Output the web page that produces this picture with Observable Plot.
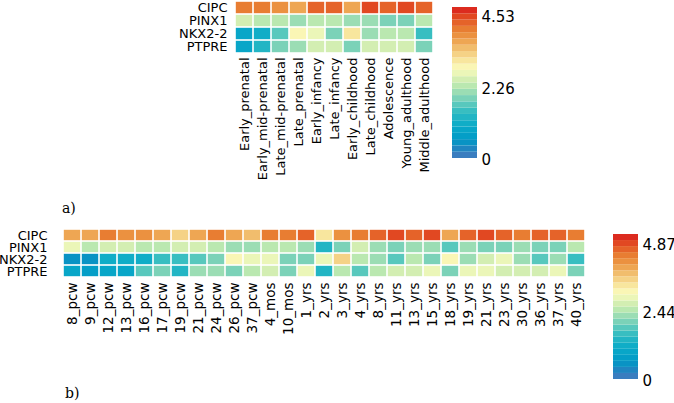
<!DOCTYPE html>
<html>
<head>
<meta charset="utf-8">
<script src="https://cdn.jsdelivr.net/npm/d3@7"></script>
<script src="https://cdn.jsdelivr.net/npm/@observablehq/plot@0.6"></script>
<style>
  html, body { margin: 0; padding: 0; background: white; }
  #root { position: relative; width: 674px; height: 403px; overflow: hidden; background: white; font-family: "DejaVu Sans", sans-serif; }
  .pane { position: absolute; }
  .tag { position: absolute; font-family: "DejaVu Serif", serif; font-size: 14px; color: #000; }
</style>
</head>
<body>
<div id="root"></div>
<script>
// ---------- data ----------
const genes = ["CIPC", "PINX1", "NKX2-2", "PTPRE"];

const stagesA = ["Early_prenatal", "Early_mid-prenatal", "Late_mid-prenatal", "Late_prenatal",
  "Early_infancy", "Late_infancy", "Early_childhood", "Late_childhood", "Adolescence",
  "Young_adulthood", "Middle_adulthood"];
const cipcA  = [4.11, 4.06, 3.97, 3.73, 4.25, 4.35, 3.73, 4.53, 4.35, 4.45, 4.22];
const pinx1A = [2.39, 2.34, 2.34, 2.15, 2.25, 2.20, 2.01, 2.06, 1.96, 1.96, 2.20];
const nkx22A = [0.81, 1.05, 1.72, 2.82, 2.63, 1.82, 3.01, 2.06, 2.34, 2.20, 1.48];
const ptpreA = [0.81, 1.29, 1.91, 2.06, 2.53, 2.39, 1.96, 2.39, 2.53, 2.58, 1.96];

const agesB = ["8_pcw", "9_pcw", "12_pcw", "13_pcw", "16_pcw", "17_pcw", "19_pcw", "21_pcw",
  "24_pcw", "26_pcw", "37_pcw", "4_mos", "10_mos", "1_yrs", "2_yrs", "3_yrs", "4_yrs", "8_yrs",
  "11_yrs", "13_yrs", "15_yrs", "18_yrs", "19_yrs", "21_yrs", "23_yrs", "30_yrs", "36_yrs",
  "37_yrs", "40_yrs"];
const cipcB  = [3.94, 4.05, 4.41, 4.26, 4.26, 4.00, 3.53, 4.05, 4.52, 4.00, 3.89, 4.41, 4.36, 4.72, 3.43,
  4.26, 4.46, 4.57, 4.87, 4.57, 4.78, 4.00, 4.70, 4.78, 4.62, 4.41, 4.62, 4.70, 4.41];
const pinx1B = [2.85, 2.39, 2.60, 2.60, 2.44, 2.44, 2.70, 2.60, 2.44, 2.18, 2.23, 2.44, 2.54, 2.23, 1.51,
  2.13, 2.80, 2.23, 2.08, 2.18, 2.23, 1.92, 2.18, 2.08, 2.13, 2.23, 2.08, 2.13, 2.39];
const nkx22B = [0.52, 0.52, 1.14, 1.14, 1.14, 1.66, 1.66, 1.92, 2.02, 3.11, 3.01, 2.85, 1.97, 2.02, 2.85,
  3.53, 2.54, 2.23, 1.87, 2.44, 2.08, 3.17, 2.34, 2.70, 3.01, 2.34, 1.87, 2.23, 1.61];
const ptpreB = [0.88, 0.67, 0.99, 0.88, 1.87, 2.02, 1.40, 2.34, 2.23, 2.08, 2.39, 2.80, 2.02, 2.96, 1.40,
  2.49, 1.87, 2.44, 2.60, 2.70, 2.85, 2.13, 2.85, 2.85, 2.75, 2.70, 2.60, 2.85, 2.13];

const tickValsA = [0, 2.26, 4.53];
const tickLabelsA = ["0", "2.26", "4.53"];
const tickValsB = [0, 2.44, 4.87];
const tickLabelsB = ["0", "2.44", "4.87"];
const barTopA = 4.78;   // top of colour bar a)
const barTopB = 5.19;   // top of colour bar b)
const nBands = 24;

// colour map (blue -> teal -> yellow -> orange -> red), discretised
const stopPos = [0, 0.04, 0.08, 0.16, 0.24, 0.32, 0.40, 0.47, 0.53, 0.59, 0.65, 0.72, 0.79, 0.86, 0.93, 1];
const stopCol = ["#3a7dbf", "#3a7dbf", "#0b8cc2", "#03a2c8", "#12afc7", "#3cbfc0", "#7ed3b8", "#b4e6b0",
  "#d8f0b2", "#fbfbbd", "#f8e49c", "#f2c272", "#ec9c48", "#e87a30", "#e24d22", "#d91c1e"];

// ---------- build ----------
const cmap = d3.scaleLinear().domain(stopPos).range(stopCol).interpolate(d3.interpolateRgb);
const bandColors = d3.range(nBands).map(i => cmap((i + 0.5) / nBands));
function colorSpec(top) {
  return {type: "threshold", domain: d3.range(1, nBands).map(i => i * top / nBands), range: bandColors};
}
function tidy(cols, rows) {
  const out = [];
  genes.forEach((g, gi) => rows[gi].forEach((v, i) => out.push({col: cols[i], gene: g, value: v})));
  return out;
}
const dataA = tidy(stagesA, [cipcA, pinx1A, nkx22A, ptpreA]);
const dataB = tidy(agesB, [cipcB, pinx1B, nkx22B, ptpreB]);

const root = document.getElementById("root");
function place(el, left, top) {
  const d = document.createElement("div");
  d.className = "pane";
  d.style.left = left + "px";
  d.style.top = top + "px";
  d.appendChild(el);
  root.appendChild(d);
}

function heat(data, cols, top, opts) {
  return Plot.plot({
    width: opts.width, height: opts.height,
    marginLeft: opts.ml, marginRight: opts.mr, marginTop: opts.mt, marginBottom: opts.mb,
    style: {fontFamily: "DejaVu Sans", fontSize: "12px", background: "white", color: "black"},
    x: {domain: cols, padding: 0},
    y: {domain: genes, padding: 0},
    color: colorSpec(top),
    marks: [
      Plot.cell(data, {x: "col", y: "gene", fill: "value", inset: 0.8}),
      Plot.axisX({tickRotate: -90, tickSize: 0, tickPadding: 4, fontSize: opts.xfs, label: null}),
      Plot.axisY({tickSize: 0, tickPadding: 3, fontSize: 13, label: null})
    ]
  });
}

function colorbar(top, vals, labels, opts) {
  const bands = d3.range(nBands).map(i => ({lo: i * top / nBands, hi: (i + 1) * top / nBands, mid: (i + 0.5) * top / nBands}));
  return Plot.plot({
    width: opts.width, height: opts.height,
    marginLeft: opts.ml, marginRight: opts.mr, marginTop: opts.mt, marginBottom: opts.mb,
    style: {fontFamily: "DejaVu Sans", background: "transparent", color: "black", overflow: "visible"},
    x: {domain: [0, 1], axis: null},
    y: {domain: [0, top], axis: null},
    color: colorSpec(top),
    marks: [
      Plot.rect(bands, {x1: () => 0, x2: () => 1, y1: "lo", y2: "hi", fill: "mid"}),
      Plot.text(vals, {x: () => 1, y: d => d, text: (d, i) => labels[i], textAnchor: "start", dx: 4, dy: 2, fontSize: 15})
    ]
  });
}

place(heat(dataA, stagesA, barTopA, {width: 445, height: 190, ml: 230, mr: 7, mt: 1, mb: 137, xfs: 13}), 0, 0);
place(colorbar(barTopA, tickValsA, tickLabelsA, {width: 90, height: 175, ml: 12, mr: 53, mt: 7, mb: 17}), 440, 0);
place(heat(dataB, agesB, barTopB, {width: 600, height: 120, ml: 50, mr: 2, mt: 3, mb: 66, xfs: 13.5}), 0, 224);
place(colorbar(barTopB, tickValsB, tickLabelsB, {width: 74, height: 165, ml: 13, mr: 36, mt: 10, mb: 10}), 600, 224);

const ta = document.createElement("div"); ta.className = "tag"; ta.textContent = "a)";
ta.style.left = "62px"; ta.style.top = "200px"; root.appendChild(ta);
const tb = document.createElement("div"); tb.className = "tag"; tb.textContent = "b)";
tb.style.left = "65px"; tb.style.top = "385px"; root.appendChild(tb);
</script>
</body>
</html>
